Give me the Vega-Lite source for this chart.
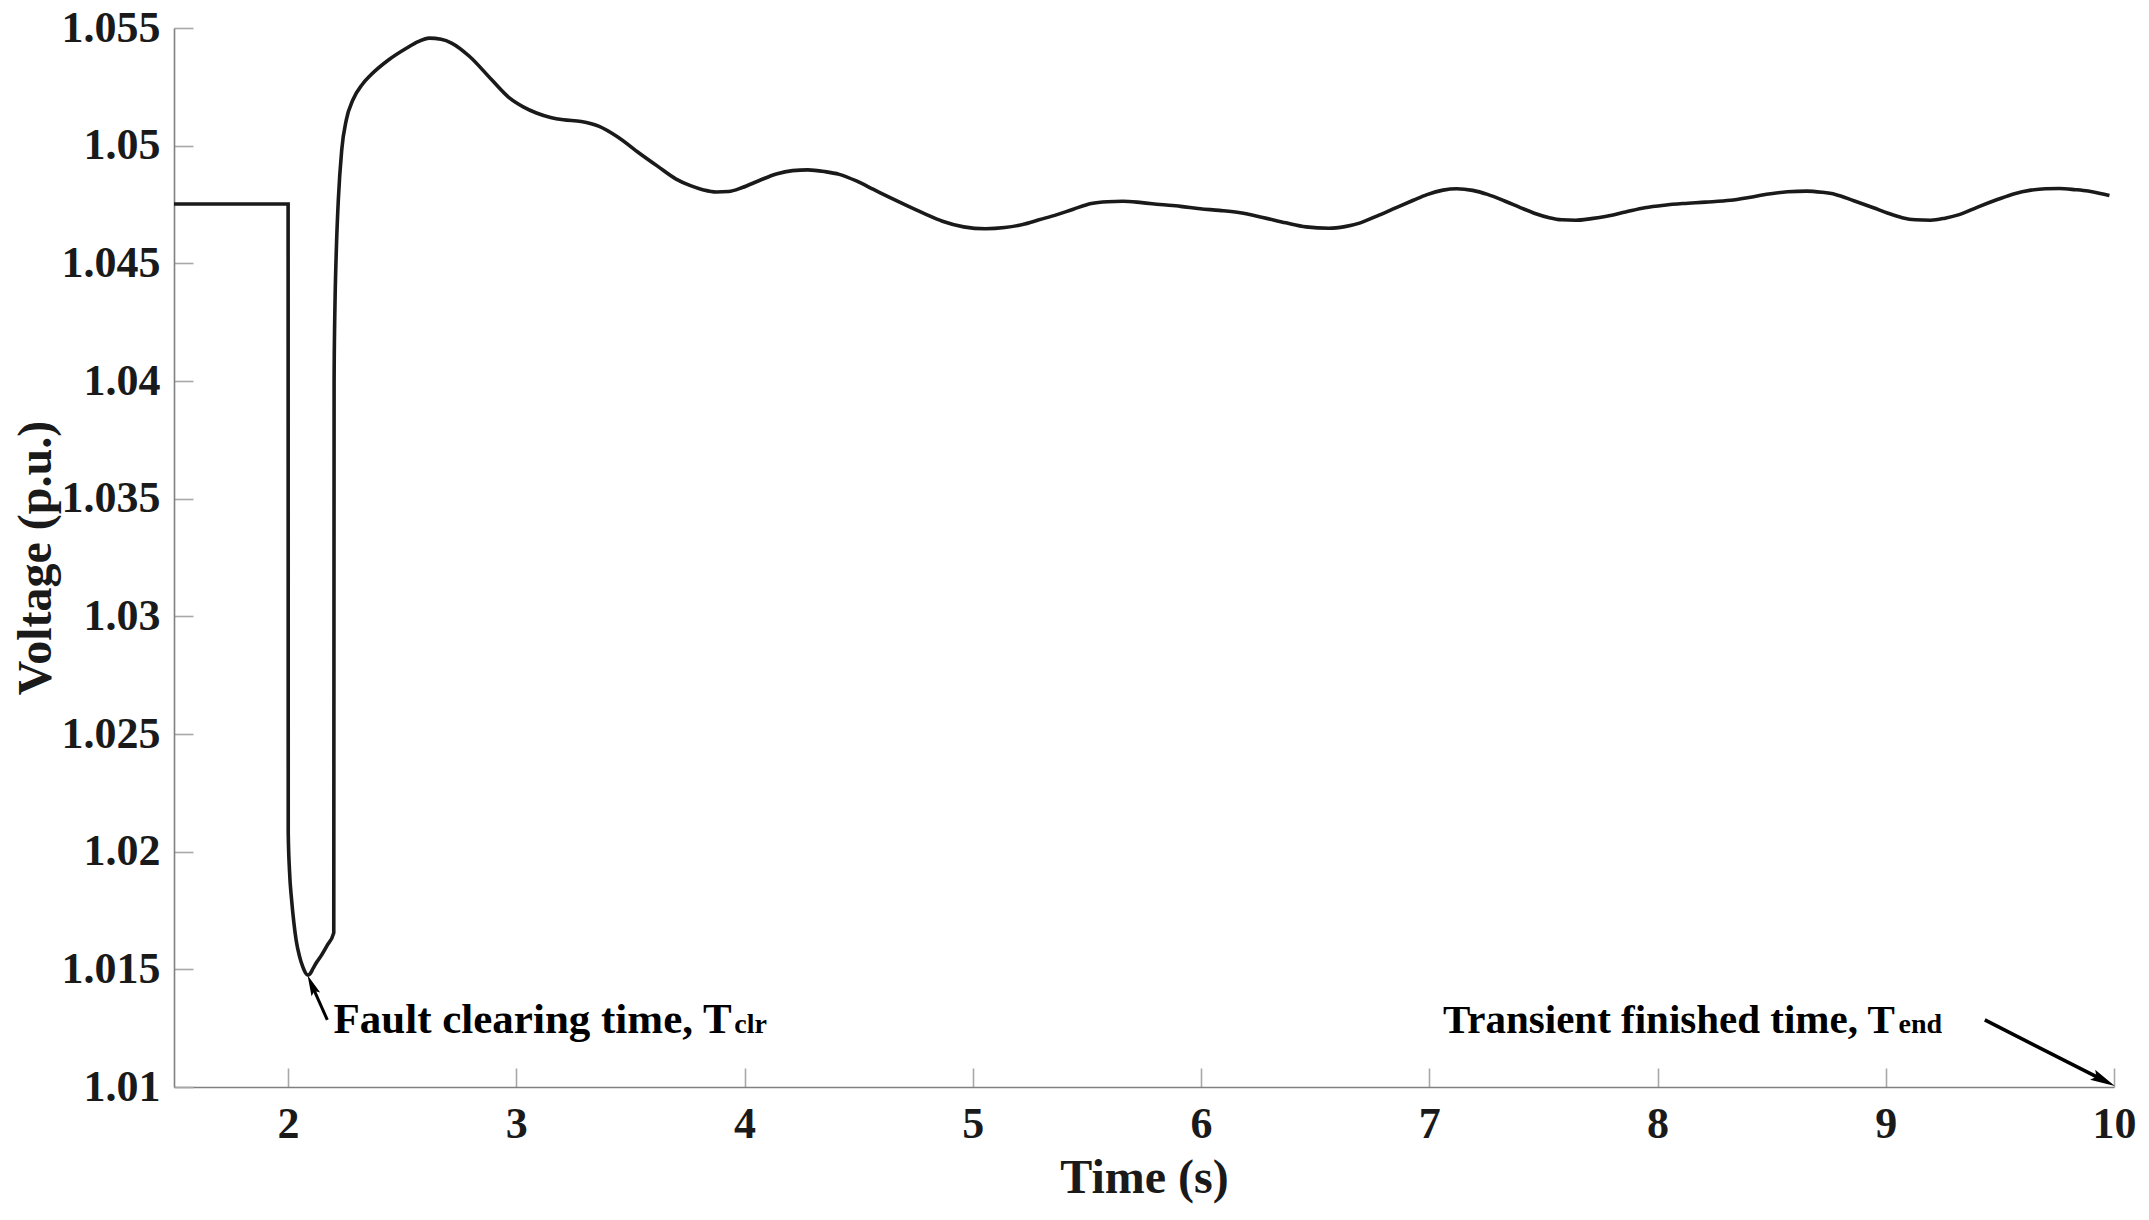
{
  "$schema": "https://vega.github.io/schema/vega-lite/v6.json",
  "width": 1940,
  "height": 1059,
  "autosize": {"type": "none"},
  "padding": {"left": 174, "top": 28, "right": 35, "bottom": 133},
  "background": "white",
  "config": {
    "view": {"stroke": null},
    "font": "Liberation Serif",
    "axis": {
      "domainColor": "#808080",
      "domainWidth": 1.6,
      "tickColor": "#a8a8a8",
      "tickWidth": 1.6,
      "tickSize": -19,
      "grid": false,
      "labelFlush": false,
      "labelOverlap": false,
      "labelFont": "Liberation Serif",
      "labelFontWeight": "bold",
      "labelFontSize": 44,
      "labelColor": "#1a1a1a",
      "titleFont": "Liberation Serif",
      "titleFontWeight": "bold",
      "titleFontSize": 48,
      "titleColor": "#1a1a1a"
    }
  },
  "datasets": {
    "voltage": [
      {"t": 1.5, "v": 1.04752},
      {"t": 2.0, "v": 1.04752},
      {"t": 2.0005, "v": 1.0208},
      {"t": 2.006, "v": 1.0192},
      {"t": 2.0153, "v": 1.01795},
      {"t": 2.025, "v": 1.0170},
      {"t": 2.035, "v": 1.01625},
      {"t": 2.05, "v": 1.01555},
      {"t": 2.064, "v": 1.01511},
      {"t": 2.076, "v": 1.01485},
      {"t": 2.085, "v": 1.01476},
      {"t": 2.095, "v": 1.0148},
      {"t": 2.11, "v": 1.01505},
      {"t": 2.125, "v": 1.0153},
      {"t": 2.142, "v": 1.01554},
      {"t": 2.17, "v": 1.016},
      {"t": 2.2, "v": 1.01655},
      {"t": 2.2015, "v": 1.04},
      {"t": 2.204, "v": 1.0425},
      {"t": 2.206, "v": 1.0436},
      {"t": 2.212, "v": 1.0458},
      {"t": 2.22, "v": 1.0477},
      {"t": 2.235, "v": 1.04983},
      {"t": 2.255, "v": 1.0511},
      {"t": 2.284, "v": 1.05195},
      {"t": 2.324, "v": 1.05259},
      {"t": 2.363, "v": 1.05301},
      {"t": 2.441, "v": 1.05365},
      {"t": 2.52, "v": 1.05415},
      {"t": 2.57, "v": 1.05442},
      {"t": 2.618, "v": 1.05457},
      {"t": 2.67, "v": 1.05452},
      {"t": 2.716, "v": 1.05436},
      {"t": 2.794, "v": 1.0538},
      {"t": 2.892, "v": 1.0528},
      {"t": 2.971, "v": 1.05202},
      {"t": 3.03, "v": 1.05165},
      {"t": 3.088, "v": 1.05139},
      {"t": 3.15, "v": 1.0512},
      {"t": 3.206, "v": 1.0511},
      {"t": 3.284, "v": 1.05103},
      {"t": 3.363, "v": 1.05082},
      {"t": 3.441, "v": 1.05039},
      {"t": 3.539, "v": 1.04968},
      {"t": 3.62, "v": 1.04912},
      {"t": 3.7, "v": 1.04858},
      {"t": 3.763, "v": 1.0483},
      {"t": 3.82, "v": 1.04812},
      {"t": 3.876, "v": 1.04803},
      {"t": 3.93, "v": 1.04805},
      {"t": 3.99, "v": 1.04822},
      {"t": 4.06, "v": 1.0485},
      {"t": 4.139, "v": 1.0488},
      {"t": 4.21, "v": 1.04894},
      {"t": 4.277, "v": 1.04897},
      {"t": 4.35, "v": 1.0489},
      {"t": 4.415, "v": 1.04878},
      {"t": 4.49, "v": 1.0485},
      {"t": 4.565, "v": 1.04814},
      {"t": 4.64, "v": 1.04778},
      {"t": 4.716, "v": 1.04743},
      {"t": 4.79, "v": 1.0471},
      {"t": 4.867, "v": 1.04679},
      {"t": 4.96, "v": 1.04655},
      {"t": 5.055, "v": 1.04647},
      {"t": 5.14, "v": 1.04652},
      {"t": 5.218, "v": 1.04665},
      {"t": 5.29, "v": 1.04685},
      {"t": 5.369, "v": 1.04707},
      {"t": 5.44, "v": 1.0473},
      {"t": 5.519, "v": 1.04754},
      {"t": 5.59, "v": 1.04762},
      {"t": 5.657, "v": 1.04764},
      {"t": 5.74, "v": 1.04758},
      {"t": 5.82, "v": 1.0475},
      {"t": 5.91, "v": 1.04742},
      {"t": 5.996, "v": 1.04732},
      {"t": 6.08, "v": 1.04725},
      {"t": 6.172, "v": 1.04715},
      {"t": 6.27, "v": 1.04695},
      {"t": 6.372, "v": 1.04672},
      {"t": 6.46, "v": 1.04655},
      {"t": 6.56, "v": 1.04649},
      {"t": 6.63, "v": 1.04656},
      {"t": 6.698, "v": 1.04672},
      {"t": 6.78, "v": 1.04705},
      {"t": 6.858, "v": 1.04738},
      {"t": 6.93, "v": 1.04768},
      {"t": 6.99, "v": 1.04792},
      {"t": 7.06, "v": 1.04811},
      {"t": 7.12, "v": 1.04817},
      {"t": 7.19, "v": 1.0481},
      {"t": 7.255, "v": 1.04793},
      {"t": 7.33, "v": 1.04765},
      {"t": 7.401, "v": 1.04736},
      {"t": 7.46, "v": 1.04713},
      {"t": 7.526, "v": 1.04694},
      {"t": 7.58, "v": 1.04685},
      {"t": 7.641, "v": 1.04683},
      {"t": 7.71, "v": 1.0469},
      {"t": 7.777, "v": 1.047},
      {"t": 7.86, "v": 1.04718},
      {"t": 7.944, "v": 1.04736},
      {"t": 8.03, "v": 1.04747},
      {"t": 8.111, "v": 1.04754},
      {"t": 8.21, "v": 1.0476},
      {"t": 8.32, "v": 1.04768},
      {"t": 8.4, "v": 1.0478},
      {"t": 8.487, "v": 1.04795},
      {"t": 8.57, "v": 1.04804},
      {"t": 8.654, "v": 1.04807},
      {"t": 8.72, "v": 1.04802},
      {"t": 8.779, "v": 1.04793},
      {"t": 8.86, "v": 1.04766},
      {"t": 8.946, "v": 1.04736},
      {"t": 9.01, "v": 1.04713},
      {"t": 9.072, "v": 1.04694},
      {"t": 9.13, "v": 1.04685},
      {"t": 9.197, "v": 1.04683},
      {"t": 9.26, "v": 1.04692},
      {"t": 9.322, "v": 1.04707},
      {"t": 9.4, "v": 1.04738},
      {"t": 9.489, "v": 1.04771},
      {"t": 9.56, "v": 1.04795},
      {"t": 9.636, "v": 1.04811},
      {"t": 9.7, "v": 1.04817},
      {"t": 9.761, "v": 1.04818},
      {"t": 9.83, "v": 1.04813},
      {"t": 9.886, "v": 1.04807},
      {"t": 9.94, "v": 1.04797},
      {"t": 9.98, "v": 1.04788}
    ]
  },
  "layer": [
    {
      "data": {"name": "voltage"},
      "mark": {"type": "line", "color": "#1a1a1a", "strokeWidth": 3.6, "interpolate": "monotone"},
      "encoding": {
        "x": {
          "field": "t", "type": "quantitative",
          "scale": {"domain": [1.5, 10], "nice": false, "zero": false},
          "axis": {"values": [2, 3, 4, 5, 6, 7, 8, 9, 10], "format": "d", "title": "Time (s)", "labelPadding": 34, "titleY": 105, "titleBaseline": "alphabetic"}
        },
        "y": {
          "field": "v", "type": "quantitative",
          "scale": {"domain": [1.01, 1.055], "nice": false, "zero": false},
          "axis": {"values": [1.01, 1.015, 1.02, 1.025, 1.03, 1.035, 1.04, 1.045, 1.05, 1.055], "format": "~g", "title": "Voltage (p.u.)", "labelPadding": 33, "titleX": -124, "titleBaseline": "alphabetic"}
        }
      }
    },
    {
      "data": {"values": [{"t": 2.1718, "v": 1.01285, "t2": 2.1034, "v2": 1.01434}]},
      "mark": {"type": "rule", "color": "#000000", "strokeWidth": 3},
      "encoding": {
        "x": {"field": "t", "type": "quantitative"},
        "y": {"field": "v", "type": "quantitative"},
        "x2": {"field": "t2"},
        "y2": {"field": "v2"}
      }
    },
    {
      "data": {"values": [{"t": 2.1034, "v": 1.01434}]},
      "mark": {"type": "point", "shape": "M0,-1L0.45,1L0,0.65L-0.45,1Z", "filled": true, "color": "#000000", "opacity": 1, "size": 440, "angle": 336.6},
      "encoding": {
        "x": {"field": "t", "type": "quantitative"},
        "y": {"field": "v", "type": "quantitative"}
      }
    },
    {
      "data": {"values": [{"t": 9.434, "v": 1.01285, "t2": 9.955, "v2": 1.01028}]},
      "mark": {"type": "rule", "color": "#000000", "strokeWidth": 3.5},
      "encoding": {
        "x": {"field": "t", "type": "quantitative"},
        "y": {"field": "v", "type": "quantitative"},
        "x2": {"field": "t2"},
        "y2": {"field": "v2"}
      }
    },
    {
      "data": {"values": [{"t": 9.955, "v": 1.01028}]},
      "mark": {"type": "point", "shape": "M0,-1L0.45,1L0,0.65L-0.45,1Z", "filled": true, "color": "#000000", "opacity": 1, "size": 620, "angle": 117},
      "encoding": {
        "x": {"field": "t", "type": "quantitative"},
        "y": {"field": "v", "type": "quantitative"}
      }
    },
    {
      "data": {"values": [
        {"t": 2.199, "v": 1.0123, "label": "Fault clearing time, T"}
      ]},
      "mark": {"type": "text", "font": "Liberation Serif", "fontWeight": "bold", "fontSize": 43, "align": "left", "baseline": "alphabetic", "color": "#000000"},
      "encoding": {
        "x": {"field": "t", "type": "quantitative"},
        "y": {"field": "v", "type": "quantitative"},
        "text": {"field": "label"}
      }
    },
    {
      "data": {"values": [
        {"t": 7.06, "v": 1.0123, "label": "Transient finished time, T"}
      ]},
      "mark": {"type": "text", "font": "Liberation Serif", "fontWeight": "bold", "fontSize": 41, "align": "left", "baseline": "alphabetic", "color": "#000000"},
      "encoding": {
        "x": {"field": "t", "type": "quantitative"},
        "y": {"field": "v", "type": "quantitative"},
        "text": {"field": "label"}
      }
    },
    {
      "data": {"values": [
        {"t": 3.955, "v": 1.0123, "label": "clr"},
        {"t": 9.056, "v": 1.0123, "label": "end"}
      ]},
      "mark": {"type": "text", "font": "Liberation Serif", "fontWeight": "bold", "fontSize": 28, "align": "left", "baseline": "alphabetic", "color": "#000000"},
      "encoding": {
        "x": {"field": "t", "type": "quantitative"},
        "y": {"field": "v", "type": "quantitative"},
        "text": {"field": "label"}
      }
    }
  ]
}
